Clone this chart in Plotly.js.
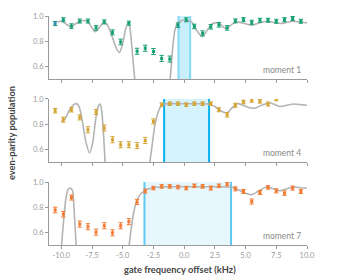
<!DOCTYPE html>
<html>
<head>
<meta charset="utf-8">
<script src="https://cdn.plot.ly/plotly-3.0.1.min.js"></script>
<style>html,body{margin:0;padding:0;background:#fff;}#chart{width:350px;height:280px;}</style>
</head>
<body>
<div id="chart"></div>
<script>
// ---- data ----
var offsets = [-10.5,-9.83,-9.17,-8.5,-7.83,-7.17,-6.5,-5.83,-5.17,-4.5,-3.83,-3.17,-2.5,-1.83,-1.17,
  -0.5,0.17,0.83,1.5,2.17,2.83,3.5,4.17,4.83,5.5,6.17,6.83,7.5,8.17,8.83,9.5];

var m1Values = [0.94,0.97,0.92,0.96,0.96,0.906,0.953,0.87,0.794,0.943,0.72,0.744,0.718,0.663,0.658,
  0.927,0.97,0.917,0.862,0.914,0.93,0.906,0.961,0.971,0.95,0.966,0.966,0.958,0.971,0.98,0.958];
var m1Errors = [0.016,0.016,0.018,0.016,0.016,0.019,0.016,0.02,0.022,0.016,0.024,0.024,0.024,0.024,0.024,
  0.018,0.016,0.018,0.02,0.018,0.018,0.018,0.016,0.016,0.016,0.016,0.016,0.016,0.016,0.016,0.016];

var m4Offsets = offsets.slice(0, 28);
var m4Values = [0.907,0.836,0.915,0.854,0.756,0.897,0.77,0.677,0.637,0.637,0.63,0.671,0.822,0.955,0.963,
  0.963,0.955,0.963,0.963,0.963,0.915,0.875,0.95,0.976,0.989,0.981,0.96,1.0];
var m4Errors = [0.018,0.02,0.018,0.02,0.024,0.02,0.024,0.024,0.024,0.024,0.024,0.024,0.02,0.014,0.014,
  0.014,0.014,0.014,0.014,0.014,0.016,0.018,0.016,0.014,0.014,0.014,0.016,0.014];

var m7Values = [0.778,0.744,0.877,0.666,0.645,0.602,0.653,0.597,0.653,0.685,0.842,0.928,0.952,0.965,0.965,
  0.96,0.952,0.97,0.965,0.952,0.97,0.984,0.946,0.925,0.845,0.917,0.957,0.93,0.912,0.952,0.925];
var m7Errors = [0.022,0.022,0.02,0.024,0.024,0.024,0.024,0.024,0.024,0.024,0.02,0.016,0.014,0.014,0.014,
  0.014,0.014,0.014,0.014,0.016,0.014,0.014,0.016,0.016,0.02,0.016,0.014,0.016,0.018,0.016,0.016];

// theory curves (null = gap where curve leaves the frame)
var th1X = [-10.3,-10.0,-9.6,-9.2,-8.8,-8.4,-7.9,-7.55,-7.25,-6.9,-6.5,-6.2,-5.8,-5.5,-5.28,-5.0,-4.75,-4.53,-4.4,-4.25,-4.1,-4.0,
  null,-1.15,-1.05,-0.9,-0.75,-0.5,0.05,0.6,1.0,1.45,1.9,2.3,2.8,3.15,3.5,3.9,4.3,4.9,5.5,6.1,6.7,7.3,7.8,8.4,8.9,9.5,10.0];
var th1Y = [0.95,0.96,0.935,0.914,0.94,0.96,0.96,0.915,0.875,0.91,0.953,0.92,0.82,0.74,0.71,0.78,0.9,0.948,0.9,0.75,0.58,0.48,
  null,0.48,0.6,0.78,0.89,0.95,0.97,0.953,0.89,0.835,0.89,0.94,0.945,0.915,0.9,0.935,0.953,0.94,0.927,0.945,0.958,0.95,0.94,0.95,0.958,0.952,0.945];

var th4X = [-10.0,-9.7,-9.4,-9.05,-8.78,-8.55,-8.3,-8.0,-7.7,-7.45,-7.2,-7.0,-6.83,-6.7,-6.55,-6.42,
  null,-2.82,-2.65,-2.4,-2.2,-1.9,-1.6,-1.0,0,1.0,2.0,2.5,3.0,3.5,3.9,4.3,4.8,5.3,5.8,6.4,7.0,7.4,7.8,8.3,8.9,9.5,10.0];
var th4Y = [0.82,0.84,0.9,0.95,0.963,0.94,0.83,0.66,0.572,0.65,0.84,0.94,0.96,0.9,0.7,0.48,
  null,0.48,0.6,0.78,0.87,0.94,0.96,0.963,0.962,0.962,0.96,0.94,0.905,0.89,0.93,0.963,0.95,0.93,0.928,0.955,0.968,0.955,0.94,0.948,0.96,0.955,0.95];

var th7X = [-10.0,-9.85,-9.65,-9.45,-9.25,-9.08,-8.97,-8.87,-8.78,
  null,-4.5,-4.35,-4.12,-3.85,-3.58,-3.3,-3.03,-2.5,-1.5,0,1.5,3.0,4.0,4.5,5.0,5.5,6.0,6.7,7.3,7.8,8.3,8.9,9.5,10.0];
var th7Y = [0.48,0.65,0.85,0.94,0.952,0.93,0.8,0.63,0.48,
  null,0.48,0.6,0.752,0.85,0.9,0.925,0.94,0.955,0.962,0.963,0.963,0.962,0.955,0.935,0.91,0.9,0.925,0.96,0.945,0.93,0.945,0.96,0.955,0.95];

var windowStart = [-0.46, -1.63, -3.23];
var windowEnd = [0.49, 2.03, 3.82];
var panelLabels = ['moment 1', 'moment 4', 'moment 7'];
var xTickVals = [-10,-7.5,-5,-2.5,0,2.5,5,7.5,10];
var xTickText = ['-10.0','-7.5','-5.0','-2.5','0.0','2.5','5.0','7.5','10.0'];
var yTickVals = [0.6, 0.8, 1.0];
var yTickText = ['0.6', '0.8', '1.0'];

// ---- styling ----
var FONT = 'Lato, "Open Sans", sans-serif';
var greyCurve = '#b4b4b4';
var axisGrey = '#9a9a9a';
var colors = ['#17a077', '#d4a534', '#f27a33'];
var m1Colors = m1Values.map(function(v, i){ return i === 0 ? '#3b88c4' : colors[0]; });

function curve(x, y, ax) {
  return {x: x, y: y, xaxis: 'x' + ax, yaxis: 'y' + ax, mode: 'lines', type: 'scatter',
    line: {color: greyCurve, width: 1.6, shape: 'spline', smoothing: 0.6}, connectgaps: false, hoverinfo: 'skip'};
}
function pts(x, y, e, color, ax) {
  return {x: x, y: y, xaxis: 'x' + ax, yaxis: 'y' + ax, mode: 'markers', type: 'scatter',
    marker: {symbol: 'square', size: 3, color: color},
    error_y: {type: 'data', array: e, visible: true, color: Array.isArray(color) ? colors[0] : color, thickness: 1, width: 2.2}};
}

var traces = [
  curve(th1X, th1Y, ''), pts(offsets, m1Values, m1Errors, m1Colors, ''),
  curve(th4X, th4Y, '2'), pts(m4Offsets, m4Values, m4Errors, colors[1], '2'),
  curve(th7X, th7Y, '3'), pts(offsets, m7Values, m7Errors, colors[2], '3')
];

var domains = [[0.725, 1.0], [0.3624, 0.6376], [0.0, 0.275]];
var fills = ['#c9effc', '#d6f4fd', '#e6f8fe'];
var edges = ['#84d8f6', '#08b2ee', '#5ccaf1'];

function xax(i) {
  return {domain: [0, 1], range: [-11, 10], anchor: i === 0 ? 'y' : 'y' + (i + 1),
    tickvals: xTickVals, ticktext: xTickText, showticklabels: i === 2,
    ticks: 'outside', ticklen: 3, tickcolor: axisGrey, tickwidth: 1,
    showline: true, linecolor: axisGrey, linewidth: 1, showgrid: false, zeroline: false,
    tickfont: {family: FONT, size: 7.5, color: '#999'}, fixedrange: true};
}
function yax(i) {
  return {domain: domains[i], range: [0.5, 1.0], anchor: i === 0 ? 'x' : 'x' + (i + 1),
    tickvals: yTickVals, ticktext: yTickText,
    ticks: 'outside', ticklen: 3, tickcolor: axisGrey, tickwidth: 1,
    showline: true, linecolor: axisGrey, linewidth: 1, showgrid: false, zeroline: false,
    tickfont: {family: FONT, size: 7.5, color: '#999'}, fixedrange: true};
}

var shapes = [];
var annotations = [];
for (var i = 0; i < 3; i++) {
  var xr = i === 0 ? 'x' : 'x' + (i + 1);
  var yr = (i === 0 ? 'y' : 'y' + (i + 1)) + ' domain';
  shapes.push({type: 'rect', xref: xr, yref: yr, x0: windowStart[i], x1: windowEnd[i], y0: 0, y1: 1,
    fillcolor: fills[i], line: {width: 0}, layer: 'below'});
  shapes.push({type: 'line', xref: xr, yref: yr, x0: windowStart[i], x1: windowStart[i], y0: 0, y1: 1,
    line: {color: edges[i], width: 2}, layer: 'below'});
  shapes.push({type: 'line', xref: xr, yref: yr, x0: windowEnd[i], x1: windowEnd[i], y0: 0, y1: 1,
    line: {color: edges[i], width: 2}, layer: 'below'});
  annotations.push({text: panelLabels[i], xref: 'paper', yref: yr, x: 0.984, y: 0.145,
    xanchor: 'right', yanchor: 'middle', showarrow: false,
    font: {family: FONT, size: 8.5, color: '#8a8a8a'}});
}
annotations.push({text: '<b>even-parity population</b>', xref: 'paper', yref: 'paper', x: -0.147, y: 0.489,
  xanchor: 'center', yanchor: 'middle', textangle: -90, showarrow: false,
  font: {family: FONT, size: 9.3, color: '#444'}});
annotations.push({text: '<b>gate frequency offset (kHz)</b>', xref: 'paper', yref: 'paper', x: 0.508, y: -0.109,
  xanchor: 'center', yanchor: 'middle', showarrow: false,
  font: {family: FONT, size: 9.3, color: '#444'}});

var layout = {
  width: 350, height: 280,
  margin: {l: 49, r: 43, t: 16, b: 35},
  paper_bgcolor: '#fff', plot_bgcolor: '#fff',
  showlegend: false,
  xaxis: xax(0), xaxis2: xax(1), xaxis3: xax(2),
  yaxis: yax(0), yaxis2: yax(1), yaxis3: yax(2),
  shapes: shapes, annotations: annotations,
  font: {family: FONT}
};

Plotly.newPlot('chart', traces, layout, {staticPlot: true, displayModeBar: false});
</script>
</body>
</html>
